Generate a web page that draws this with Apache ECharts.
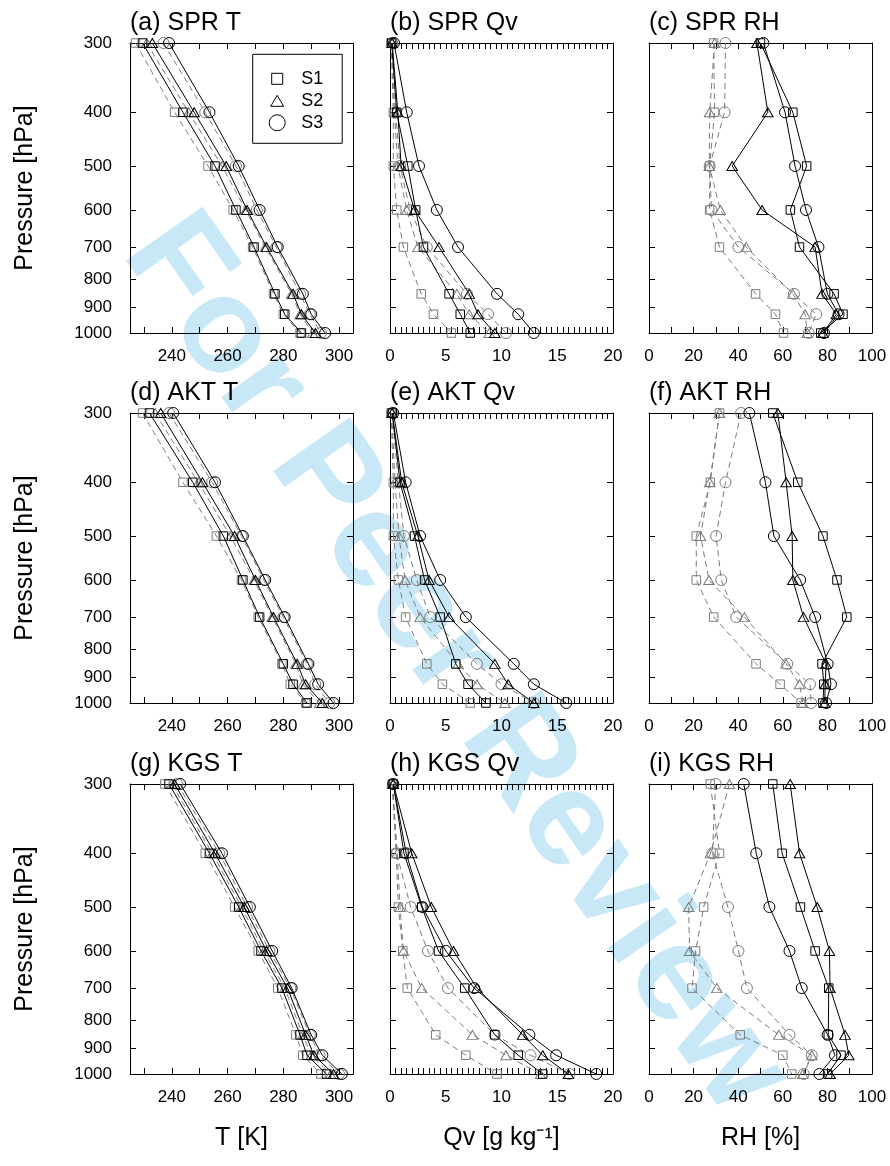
<!DOCTYPE html>
<html>
<head>
<meta charset="utf-8">
<script src="https://cdn.jsdelivr.net/npm/echarts@6/dist/echarts.min.js"></script>
<style>
  html, body { margin: 0; padding: 0; background: #fff; }
  #chart { width: 890px; height: 1166px; }
</style>
</head>
<body>
<div id="chart"></div>
<script>
// Pressure levels of the profiles (hPa) and pressure-axis ticks
const pressureLevels = [300, 400, 500, 600, 700, 850, 925, 1000];
const pressureTicks = [300, 400, 500, 600, 700, 800, 900, 1000];

// Horizontal axis ticks / labels per variable
const T_TICKS = [230, 240, 250, 260, 270, 280, 290, 300];
const T_LABELS = [240, 260, 280, 300];
const QV_TICKS = [0, 0.5, 1, 1.5, 2, 2.5, 3, 3.5, 4, 4.5, 5, 5.5, 6, 6.5, 7, 7.5, 8, 8.5, 9, 9.5,
                  10, 10.5, 11, 11.5, 12, 12.5, 13, 13.5, 14, 14.5, 15, 15.5, 16, 16.5, 17, 17.5, 18, 18.5, 19, 19.5, 20];
const QV_LABELS = [0, 5, 10, 15, 20];
const RH_TICKS = [0, 10, 20, 30, 40, 50, 60, 70, 80, 90, 100];
const RH_LABELS = [0, 20, 40, 60, 80, 100];

// Profiles: rows are S1, S2, S3; columns follow pressureLevels
// SPR
const SPR_T_solid  = [[229.5, 244, 255.5, 263, 269.5, 277, 280.5, 286.5],
                      [233, 248, 259.5, 267, 274, 283.5, 286.5, 291.5],
                      [239, 253.5, 264, 271.5, 278, 287, 290, 295]];
const SPR_T_dashed = [[227, 241, 253, 262, 269, 276.5, 280, 286],
                      [231, 246, 258, 266.5, 273.5, 283, 286, 290.5],
                      [237, 252, 263, 270.5, 277.5, 286, 289.5, 293.5]];
const SPR_QV_solid  = [[0.15, 0.6, 1.6, 2.3, 3.0, 5.3, 6.3, 7.2],
                       [0.2, 0.7, 1.0, 2.2, 4.4, 7.1, 7.9, 9.4],
                       [0.36, 1.5, 2.6, 4.2, 6.1, 9.6, 11.5, 12.9]];
const SPR_QV_dashed = [[0.1, 0.3, 0.3, 0.6, 1.2, 2.8, 3.9, 5.5],
                       [0.15, 0.4, 0.7, 1.5, 2.5, 6.0, 7.1, 8.9],
                       [0.2, 0.5, 0.9, 1.8, 3.3, 6.9, 8.8, 10.4]];
const SPR_RH_solid  = [[50, 64.5, 70.7, 63.4, 67.5, 83, 87, 77],
                       [48.4, 53.3, 37.3, 50.7, 74.5, 77.6, 84, 78],
                       [51.3, 61, 65.5, 70.4, 76, 80, 85, 78.5]];
const SPR_RH_dashed = [[29, 29.4, 27.2, 27.2, 31.6, 47.8, 56.7, 60.3],
                       [29.4, 27.2, 27, 32, 43.6, 64.5, 70, 71],
                       [34.3, 33.9, 27.2, 28, 40.1, 65, 75, 71.6]];
// AKT
const AKT_T_solid  = [[232, 247.5, 258.5, 265.5, 271.5, 280, 283.5, 288.5],
                      [236, 251, 262.5, 270, 276.5, 285, 288, 294],
                      [240.5, 255.5, 265.5, 273.5, 280.5, 289, 292.5, 298]];
const AKT_T_dashed = [[229.5, 244, 256, 265, 271, 279.5, 282.5, 288],
                      [234, 249.5, 261, 269.5, 276, 284.5, 287, 293],
                      [239, 254.5, 265, 273, 280, 288.5, 291.5, 296.5]];
const AKT_QV_solid  = [[0.2, 0.9, 2.2, 3.1, 4.5, 5.9, 7.0, 8.6],
                       [0.2, 1.05, 2.5, 3.5, 5.3, 9.4, 10.6, 12.9],
                       [0.3, 1.4, 2.7, 4.5, 6.8, 11.1, 12.9, 15.8]];
const AKT_QV_dashed = [[0.1, 0.3, 0.3, 0.75, 1.4, 3.3, 4.7, 7.2],
                       [0.15, 0.45, 0.8, 1.35, 2.7, 6.1, 7.8, 10.3],
                       [0.2, 0.75, 1.25, 2.4, 3.6, 7.8, 10.0, 12.9]];
const AKT_RH_solid  = [[55.5, 66.7, 78, 84.3, 88.7, 77.6, 78.4, 78],
                       [57.8, 61.5, 64.2, 64.5, 69.3, 79.4, 79, 78.8],
                       [45, 52.2, 56, 67.8, 74.5, 80.1, 81.6, 79.4]];
const AKT_RH_dashed = [[31.6, 27.5, 21.2, 21.2, 29, 48, 58.8, 68.2],
                       [31.6, 27.2, 23.1, 26.9, 42.8, 61.5, 67.5, 69],
                       [41.3, 34.3, 30.1, 32.4, 39.1, 62, 72.2, 72.7]];
// KGS
const KGS_T_solid  = [[239, 253.5, 264, 272, 279.5, 286, 288.5, 295.5],
                      [241, 255.5, 266, 274, 281.5, 288, 291, 298],
                      [243, 258, 268, 276, 283, 290, 294, 301]];
const KGS_T_dashed = [[237.5, 252, 262.5, 271, 278, 284.5, 287, 293.5],
                      [240, 254.5, 265, 273, 280.5, 287, 290, 297],
                      [242, 257, 267, 275, 282.5, 289.5, 293, 300]];
const KGS_QV_solid  = [[0.3, 1.25, 2.85, 4.35, 6.7, 9.4, 11.5, 13.7],
                       [0.3, 1.95, 3.7, 5.7, 7.8, 11.9, 13.7, 16.0],
                       [0.3, 1.45, 2.9, 5.0, 7.55, 12.5, 14.9, 18.5]];
const KGS_QV_dashed = [[0.2, 0.55, 0.75, 1.15, 1.55, 4.1, 6.8, 9.6],
                       [0.2, 0.65, 0.9, 1.2, 2.85, 7.4, 10.4, 13.5],
                       [0.25, 0.6, 1.85, 3.4, 5.2, 9.4, 12.6, 16.1]];
const KGS_RH_solid  = [[55.5, 59.7, 67.9, 74.5, 80.6, 80.4, 86.1, 80.1],
                       [63.3, 67.5, 75.4, 80.9, 81.2, 87.9, 89.6, 81.2],
                       [42.5, 48.1, 54, 63, 68.5, 80.1, 83.4, 76.4]];
const KGS_RH_dashed = [[27.5, 31.6, 24.5, 20.9, 19.3, 40.9, 60, 64],
                       [36.1, 27.6, 17.8, 18.2, 30.4, 58.2, 73, 69],
                       [29.9, 28.4, 35.4, 40.1, 43.9, 63, 73, 69.4]];

const stations = ['SPR', 'AKT', 'KGS'];
const variableNames = ['T', 'Qv', 'RH'];
const experimentNames = ['S1', 'S2', 'S3'];
const panelLetters = ['a', 'b', 'c', 'd', 'e', 'f', 'g', 'h', 'i'];
const axisTitles = ['T [K]', 'Qv [g kg\u207B\u00B9]', 'RH [%]'];

const profiles = {
  SPR: [[SPR_T_solid, SPR_T_dashed], [SPR_QV_solid, SPR_QV_dashed], [SPR_RH_solid, SPR_RH_dashed]],
  AKT: [[AKT_T_solid, AKT_T_dashed], [AKT_QV_solid, AKT_QV_dashed], [AKT_RH_solid, AKT_RH_dashed]],
  KGS: [[KGS_T_solid, KGS_T_dashed], [KGS_QV_solid, KGS_QV_dashed], [KGS_RH_solid, KGS_RH_dashed]]
};
const xScales = [
  { min: 225, max: 305, ticks: T_TICKS, labels: T_LABELS },
  { min: 0, max: 20, ticks: QV_TICKS, labels: QV_LABELS },
  { min: 0, max: 100, ticks: RH_TICKS, labels: RH_LABELS }
];

// Panel layout (px)
const colLeft = [130, 390, 649];
const rowTop = [43, 413, 784];
const panelW = 223, panelH = 290;

const FONT = '"Liberation Sans", Arial, Helvetica, sans-serif';
const BLACK = '#000000';
const GRAY = '#7c7c7c';
const symbols = ['rect', 'triangle', 'circle'];
const symbolSizes = [8.5, [10.5, 9], 11];

const logP = p => Math.log10(p);
const pMin = logP(300), pMax = logP(1000);

const grids = [], xAxes = [], yAxes = [], series = [], titles = [];
const graphics = [];

// faint diagonal watermark behind the panels
graphics.push({
  type: 'text', x: 455, y: 665, rotation: -55 * Math.PI / 180, z: -10, silent: true,
  style: {
    text: 'For Peer Review', font: 'bold 136px ' + FONT,
    fill: '#c8e8f8', align: 'center', verticalAlign: 'middle'
  }
});

for (let r = 0; r < 3; r++) {
  for (let c = 0; c < 3; c++) {
    const p = r * 3 + c;
    const st = stations[r];
    const sc = xScales[c];
    grids.push({ left: colLeft[c], top: rowTop[r], width: panelW, height: panelH, containLabel: false });

    const baseX = {
      gridIndex: p, type: 'value', min: sc.min, max: sc.max,
      axisLine: { show: true, onZero: false, lineStyle: { color: BLACK, width: 1 } },
      axisTick: { show: true, inside: true, length: 6, customValues: sc.ticks, lineStyle: { color: BLACK, width: 1 } },
      splitLine: { show: false }
    };
    xAxes.push(Object.assign({}, baseX, {
      position: 'bottom',
      axisLabel: { show: true, customValues: sc.labels, fontSize: 17, color: BLACK, fontFamily: FONT, margin: 15 }
    }));
    xAxes.push(Object.assign({}, baseX, { position: 'top', axisLabel: { show: false } }));

    const baseY = {
      gridIndex: p, type: 'value', min: pMin, max: pMax, inverse: true,
      axisLine: { show: true, onZero: false, lineStyle: { color: BLACK, width: 1 } },
      axisTick: { show: true, inside: true, length: 6, customValues: pressureTicks.map(logP), lineStyle: { color: BLACK, width: 1 } },
      splitLine: { show: false }
    };
    yAxes.push(Object.assign({}, baseY, {
      position: 'left',
      axisLabel: {
        show: c === 0, customValues: pressureTicks.map(logP), fontSize: 17, color: BLACK,
        fontFamily: FONT, margin: 18, formatter: v => String(Math.round(Math.pow(10, v)))
      }
    }));
    yAxes.push(Object.assign({}, baseY, { position: 'right', axisLabel: { show: false } }));

    titles.push({
      text: '(' + panelLetters[p] + ') ' + st + ' ' + variableNames[c],
      left: colLeft[c], top: rowTop[r] - 32, padding: 0,
      textStyle: { fontSize: 25, fontWeight: 'normal', color: BLACK, fontFamily: FONT }
    });

    const [solidSet, dashedSet] = profiles[st][c];
    for (let k = 0; k < 3; k++) {
      [[dashedSet, GRAY, [6, 4], experimentNames[k] + ' (dashed)', 2],
       [solidSet, BLACK, 'solid', experimentNames[k], 3]].forEach(([set, color, dash, name, z]) => {
        series.push({
          type: 'line', name: name, xAxisIndex: 2 * p, yAxisIndex: 2 * p,
          data: pressureLevels.map((lev, i) => [set[k][i], logP(lev)]),
          symbol: symbols[k], symbolSize: symbolSizes[k], showSymbol: true,
          lineStyle: { color: color, width: 1, type: dash },
          itemStyle: { color: 'transparent', borderColor: color, borderWidth: 1 },
          emphasis: { disabled: true }, silent: true, clip: false, z: z, animation: false
        });
      });
    }
  }
  // vertical axis title for each row
  graphics.push({
    type: 'text', x: 25, y: rowTop[r] + panelH / 2, rotation: Math.PI / 2, silent: true,
    style: { text: 'Pressure [hPa]', font: '25px ' + FONT, fill: BLACK, align: 'center', verticalAlign: 'middle' }
  });
}
// horizontal axis titles under the bottom row
for (let c = 0; c < 3; c++) {
  graphics.push({
    type: 'text', x: colLeft[c] + panelW / 2, y: 1138, silent: true,
    style: { text: axisTitles[c], font: '25px ' + FONT, fill: BLACK, align: 'center', verticalAlign: 'middle' }
  });
}

const legendIconStyle = { color: 'transparent', borderColor: BLACK, borderWidth: 1 };
const option = {
  animation: false,
  backgroundColor: '#ffffff',
  textStyle: { fontFamily: FONT },
  title: titles,
  grid: grids,
  xAxis: xAxes,
  yAxis: yAxes,
  legend: {
    selectedMode: false, orient: 'vertical', left: 252.7, top: 54.3,
    padding: [15.5, 19, 11.5, 16], itemGap: 4, itemWidth: 38, itemHeight: 16,
    borderColor: BLACK, borderWidth: 1, borderRadius: 0,
    textStyle: { fontSize: 18, color: BLACK, fontFamily: FONT },
    data: [
      { name: 'S1', icon: 'path://M0,0M16,16M2.5,2.5H13.5V13.5H2.5Z', itemStyle: legendIconStyle },
      { name: 'S2', icon: 'path://M0,0M16,16M1.5,13.5L8,2.5L14.5,13.5Z', itemStyle: legendIconStyle },
      { name: 'S3', icon: 'circle', itemStyle: legendIconStyle }
    ]
  },
  graphic: graphics,
  series: series
};

const chart = echarts.init(document.getElementById('chart'), null, { renderer: 'canvas' });
chart.setOption(option);
</script>
</body>
</html>
